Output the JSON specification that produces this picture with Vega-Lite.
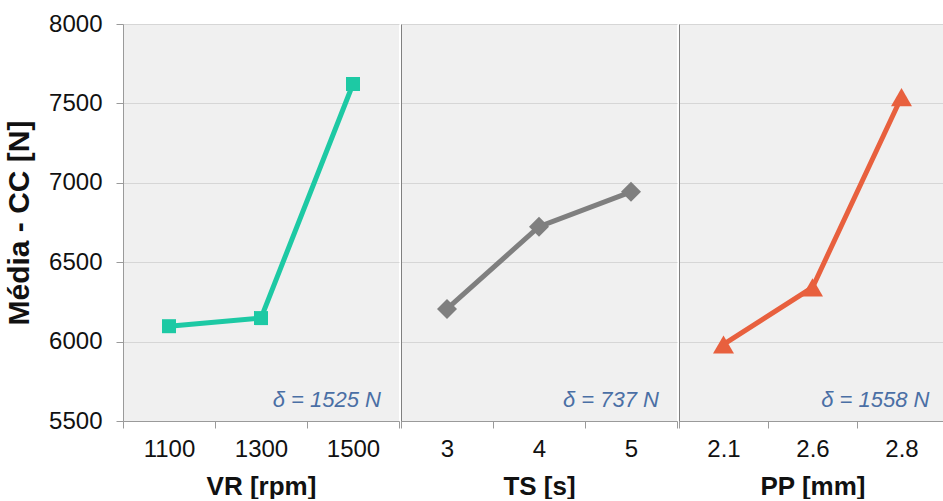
{
  "$schema": "https://vega.github.io/schema/vega-lite/v6.json",
  "padding": {"left": 4, "top": 12, "right": 0, "bottom": 0},
  "background": "white",
  "spacing": 0,
  "config": {
    "view": {"fill": "#f0f0f0", "stroke": null},
    "font": "Liberation Sans",
    "axis": {
      "labelFont": "Liberation Sans", "labelFontSize": 24, "labelColor": "#111111",
      "titleFont": "Liberation Sans", "titleFontSize": 26, "titleFontWeight": "bold", "titleColor": "#111111",
      "domainColor": "#9a9a9a", "tickColor": "#9a9a9a", "tickSize": 7, "gridColor": "#d6d6d6"
    }
  },
  "datasets": {
    "main": [
      {"factor": "VR", "level": "1100", "value": 6097},
      {"factor": "VR", "level": "1300", "value": 6148},
      {"factor": "VR", "level": "1500", "value": 7622},
      {"factor": "TS", "level": "3", "value": 6206},
      {"factor": "TS", "level": "4", "value": 6724},
      {"factor": "TS", "level": "5", "value": 6943},
      {"factor": "PP", "level": "2.1", "value": 5982},
      {"factor": "PP", "level": "2.6", "value": 6341},
      {"factor": "PP", "level": "2.8", "value": 7540}
    ],
    "notes": [
      {"factor": "VR", "level": "1500", "value": 5632, "label": "δ = 1525 N"},
      {"factor": "TS", "level": "5", "value": 5632, "label": "δ = 737 N"},
      {"factor": "PP", "level": "2.8", "value": 5632, "label": "δ = 1558 N"}
    ]
  },
  "resolve": {"scale": {"x": "independent", "y": "independent"}, "axis": {"x": "independent", "y": "independent"}},
  "hconcat": [
    {
      "width": 276, "height": 397,
      "layer": [
        {
          "data": {"name": "main"}, "transform": [{"filter": "datum.factor === 'VR'"}],
          "mark": {"type": "line", "color": "#1dc9a4", "strokeWidth": 5},
          "encoding": {
            "x": {"field": "level", "type": "ordinal", "sort": ["1100", "1300", "1500"], "scale": {"type": "band", "paddingInner": 0, "paddingOuter": 0},
                  "axis": {"title": "VR [rpm]", "labelAngle": 0, "tickBand": "extent", "labelPadding": 9, "titlePadding": 12}},
            "y": {"field": "value", "type": "quantitative", "scale": {"domain": [5500, 8000], "nice": false, "zero": false},
                  "axis": {"values": [5500, 6000, 6500, 7000, 7500, 8000], "format": "d", "title": "Média - CC [N]", "titleFontSize": 30, "labelPadding": 14, "titlePadding": 14, "grid": true}}
          }
        },
        {
          "data": {"name": "main"}, "transform": [{"filter": "datum.factor === 'VR'"}],
          "mark": {"type": "point", "shape": "square", "filled": true, "opacity": 1, "color": "#1dc9a4", "size": 196},
          "encoding": {
            "x": {"field": "level", "type": "ordinal", "sort": ["1100", "1300", "1500"]},
            "y": {"field": "value", "type": "quantitative"}
          }
        },
        {
          "data": {"name": "notes"}, "transform": [{"filter": "datum.factor === 'VR'"}],
          "mark": {"type": "text", "align": "right", "baseline": "middle", "dx": 28, "fontStyle": "italic", "fontSize": 22, "color": "#4a6fa5"},
          "encoding": {
            "x": {"field": "level", "type": "ordinal", "sort": ["1100", "1300", "1500"]},
            "y": {"field": "value", "type": "quantitative"},
            "text": {"field": "label"}
          }
        }
      ]
    },
    {
      "width": 276, "height": 397,
      "layer": [
        {
          "data": {"name": "main"}, "transform": [{"filter": "datum.factor === 'TS'"}],
          "mark": {"type": "line", "color": "#7f7f7f", "strokeWidth": 5},
          "encoding": {
            "x": {"field": "level", "type": "ordinal", "sort": ["3", "4", "5"], "scale": {"type": "band", "paddingInner": 0, "paddingOuter": 0},
                  "axis": {"title": "TS [s]", "labelAngle": 0, "tickBand": "extent", "labelPadding": 9, "titlePadding": 12}},
            "y": {"field": "value", "type": "quantitative", "scale": {"domain": [5500, 8000], "nice": false, "zero": false},
                  "axis": {"values": [5500, 6000, 6500, 7000, 7500, 8000], "title": null, "labels": false, "ticks": false, "grid": true, "domainColor": "#808080"}}
          }
        },
        {
          "data": {"name": "main"}, "transform": [{"filter": "datum.factor === 'TS'"}],
          "mark": {"type": "point", "shape": "diamond", "filled": true, "opacity": 1, "color": "#7f7f7f", "size": 400},
          "encoding": {
            "x": {"field": "level", "type": "ordinal", "sort": ["3", "4", "5"]},
            "y": {"field": "value", "type": "quantitative"}
          }
        },
        {
          "data": {"name": "notes"}, "transform": [{"filter": "datum.factor === 'TS'"}],
          "mark": {"type": "text", "align": "right", "baseline": "middle", "dx": 28, "fontStyle": "italic", "fontSize": 22, "color": "#4a6fa5"},
          "encoding": {
            "x": {"field": "level", "type": "ordinal", "sort": ["3", "4", "5"]},
            "y": {"field": "value", "type": "quantitative"},
            "text": {"field": "label"}
          }
        }
      ]
    },
    {
      "width": 267, "height": 397,
      "layer": [
        {
          "data": {"name": "main"}, "transform": [{"filter": "datum.factor === 'PP'"}],
          "mark": {"type": "line", "color": "#e8603e", "strokeWidth": 5},
          "encoding": {
            "x": {"field": "level", "type": "ordinal", "sort": ["2.1", "2.6", "2.8"], "scale": {"type": "band", "paddingInner": 0, "paddingOuter": 0},
                  "axis": {"title": "PP [mm]", "labelAngle": 0, "tickBand": "extent", "labelPadding": 9, "titlePadding": 12}},
            "y": {"field": "value", "type": "quantitative", "scale": {"domain": [5500, 8000], "nice": false, "zero": false},
                  "axis": {"values": [5500, 6000, 6500, 7000, 7500, 8000], "title": null, "labels": false, "ticks": false, "grid": true, "domainColor": "#808080"}}
          }
        },
        {
          "data": {"name": "main"}, "transform": [{"filter": "datum.factor === 'PP'"}],
          "mark": {"type": "point", "shape": "triangle-up", "filled": true, "opacity": 1, "color": "#e8603e", "size": 440},
          "encoding": {
            "x": {"field": "level", "type": "ordinal", "sort": ["2.1", "2.6", "2.8"]},
            "y": {"field": "value", "type": "quantitative"}
          }
        },
        {
          "data": {"name": "notes"}, "transform": [{"filter": "datum.factor === 'PP'"}],
          "mark": {"type": "text", "align": "right", "baseline": "middle", "dx": 28, "fontStyle": "italic", "fontSize": 22, "color": "#4a6fa5"},
          "encoding": {
            "x": {"field": "level", "type": "ordinal", "sort": ["2.1", "2.6", "2.8"]},
            "y": {"field": "value", "type": "quantitative"},
            "text": {"field": "label"}
          }
        }
      ]
    }
  ]
}
